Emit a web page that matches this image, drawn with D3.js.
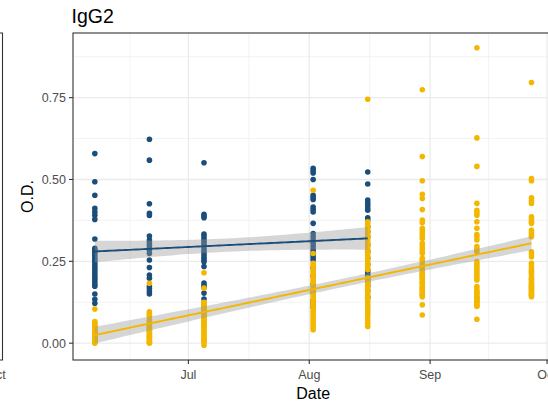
<!DOCTYPE html>
<html><head><meta charset="utf-8">
<script src="https://cdn.jsdelivr.net/npm/d3@7"></script>
<style>
body{margin:0;background:#fff}
svg{display:block}
text{font-family:Arial,"Liberation Sans",sans-serif}
</style>
</head><body>
<svg id="chart" width="548" height="402"></svg>
<script>
// ---- data ----
const title = "IgG2";
const xTitle = "Date";
const yTitle = "O.D.";
const sampleDates = ["2021-06-07","2021-06-21","2021-07-05","2021-08-02","2021-08-16","2021-08-30","2021-09-13","2021-09-27"];

// group A (dark blue) – sampled on the first five dates
const groupA = [
  [0.579,0.493,0.452,0.412,0.401,0.391,0.378,0.318,0.290,0.284,0.277,0.270,0.263,0.256,0.249,0.242,0.235,0.228,0.221,0.214,0.207,0.200,0.194,0.187,0.180,0.174,0.150,0.134,0.122],
  [0.623,0.559,0.426,0.397,0.390,0.327,0.315,0.307,0.299,0.291,0.283,0.274,0.254,0.231,0.208,0.198,0.173,0.166,0.158,0.150],
  [0.551,0.394,0.388,0.383,0.333,0.325,0.317,0.310,0.302,0.294,0.286,0.278,0.270,0.262,0.255,0.249,0.234,0.184,0.176,0.170,0.153,0.135],
  [0.534,0.527,0.520,0.500,0.452,0.445,0.439,0.416,0.409,0.401,0.366,0.335,0.325,0.315,0.305,0.296,0.287,0.278,0.270,0.262,0.254,0.230,0.205,0.180,0.155,0.130,0.120,0.110],
  [0.523,0.486,0.437,0.429,0.421,0.413,0.406,0.383,0.376,0.355,0.340,0.325,0.300,0.280,0.260,0.240,0.223,0.215,0.208,0.185,0.160,0.140,0.195,0.175]
];

// group B (yellow) – sampled on all eight dates
const groupB = [
  [0.104,0.066,0.062,0.058,0.054,0.050,0.047,0.044,0.041,0.038,0.035,0.032,0.029,0.026,0.023,0.020,0.018,0.015,0.012,0.010,0.008,0.006,0.004,0.002,0.000,0.003,0.007,0.011,0.016,0.021,0.027,0.033],
  [0.183,0.096,0.090,0.085,0.081,0.071,0.066,0.061,0.056,0.051,0.046,0.042,0.038,0.034,0.030,0.026,0.022,0.018,0.014,0.010,0.006,0.003,0.000,0.048,0.040,0.020],
  [0.215,0.168,0.122,0.116,0.110,0.104,0.098,0.092,0.087,0.082,0.077,0.072,0.067,0.062,0.057,0.052,0.047,0.042,0.037,0.032,0.027,0.022,0.017,0.012,0.007,0.003,-0.006,0.125,0.119,0.113,0.107,0.101,0.095],
  [0.467,0.274,0.244,0.237,0.230,0.223,0.216,0.209,0.202,0.195,0.188,0.181,0.174,0.167,0.160,0.153,0.146,0.139,0.132,0.125,0.118,0.111,0.104,0.097,0.090,0.083,0.076,0.069,0.062,0.055,0.048,0.041],
  [0.745,0.371,0.364,0.357,0.350,0.343,0.336,0.329,0.322,0.315,0.308,0.301,0.294,0.287,0.280,0.273,0.266,0.259,0.252,0.245,0.238,0.231,0.224,0.200,0.193,0.186,0.179,0.172,0.165,0.158,0.151,0.144,0.137,0.130,0.123,0.116,0.109,0.102,0.095,0.088,0.080,0.070,0.061,0.051],
  [0.774,0.570,0.496,0.455,0.442,0.408,0.376,0.368,0.351,0.343,0.335,0.327,0.320,0.305,0.297,0.289,0.281,0.274,0.259,0.252,0.245,0.238,0.231,0.224,0.217,0.210,0.203,0.196,0.190,0.183,0.168,0.160,0.150,0.142,0.117,0.086,0.227,0.213,0.206,0.199,0.186,0.178,0.171,0.164,0.155,0.146],
  [0.902,0.627,0.540,0.427,0.406,0.398,0.391,0.371,0.351,0.332,0.324,0.315,0.295,0.287,0.279,0.249,0.242,0.235,0.228,0.221,0.214,0.207,0.200,0.193,0.173,0.166,0.159,0.152,0.145,0.138,0.131,0.124,0.118,0.112,0.073,0.115,0.128,0.141,0.155,0.135],
  [0.796,0.503,0.496,0.444,0.435,0.427,0.386,0.379,0.372,0.366,0.345,0.338,0.331,0.325,0.279,0.271,0.264,0.244,0.236,0.228,0.221,0.213,0.198,0.191,0.184,0.177,0.170,0.163,0.156,0.149,0.142,0.195,0.175,0.160,0.146,0.152,0.168,0.182,0.205,0.218]
];

const yTickValues = [0, 0.25, 0.50, 0.75];
const yTickLabels = ["0.00","0.25","0.50","0.75"];
const xTickDates = ["2021-06-01","2021-07-01","2021-08-01","2021-09-01","2021-10-01"];
const xTickLabels = ["Jun","Jul","Aug","Sep","Oct"];

const colorA = "#1b4e7a";
const colorB = "#f3b700";

// ---- layout ----
const svg = d3.select("#chart");
const W = 548, H = 402;
const panel = {left: 73, right: 553.3, top: 33, bottom: 360};

const parse = d3.utcParse("%Y-%m-%d");
const dayMs = 86400000;
const dates = sampleDates.map(parse);

function toPoints(groups) {
  const pts = [];
  groups.forEach((vals, i) => vals.forEach(v => pts.push({d: dates[i], v})));
  return pts;
}
const ptsA = toPoints(groupA);
const ptsB = toPoints(groupB);
const all = ptsA.concat(ptsB);

// ggplot-like 5% expansion
const dExt = d3.extent(all, p => +p.d);
const dPad = (dExt[1] - dExt[0]) * 0.05;
const vExt = d3.extent(all, p => p.v);
const vPad = (vExt[1] - vExt[0]) * 0.05;

const x = d3.scaleUtc().domain([new Date(dExt[0] - dPad), new Date(dExt[1] + dPad)]).range([panel.left, panel.right]);
const y = d3.scaleLinear().domain([vExt[0] - vPad, vExt[1] + vPad]).range([panel.bottom, panel.top]);

svg.append("defs").append("clipPath").attr("id","clip")
  .append("rect").attr("x",panel.left).attr("y",panel.top)
  .attr("width",panel.right-panel.left).attr("height",panel.bottom-panel.top);

const g = svg.append("g").attr("clip-path","url(#clip)");

// grid
const xMaj = xTickDates.map(parse);
const xMin = [];
for (let i = 0; i < xMaj.length - 1; i++) xMin.push(new Date((+xMaj[i] + +xMaj[i+1]) / 2));
const yMin = [];
for (let i = 0; i < yTickValues.length; i++) yMin.push(yTickValues[i] + 0.125);

g.selectAll(".ymin").data(yMin).join("line")
  .attr("x1",panel.left).attr("x2",panel.right)
  .attr("y1",d=>y(d)).attr("y2",d=>y(d))
  .attr("stroke","#f2f2f2").attr("stroke-width",0.9);
g.selectAll(".xmin").data(xMin).join("line")
  .attr("y1",panel.top).attr("y2",panel.bottom)
  .attr("x1",d=>x(d)).attr("x2",d=>x(d))
  .attr("stroke","#f2f2f2").attr("stroke-width",0.9);
g.selectAll(".ymaj").data(yTickValues).join("line")
  .attr("x1",panel.left).attr("x2",panel.right)
  .attr("y1",d=>y(d)).attr("y2",d=>y(d))
  .attr("stroke","#ebebeb").attr("stroke-width",1.3);
g.selectAll(".xmaj").data(xMaj).join("line")
  .attr("y1",panel.top).attr("y2",panel.bottom)
  .attr("x1",d=>x(d)).attr("x2",d=>x(d))
  .attr("stroke","#ebebeb").attr("stroke-width",1.3);

// points
const r = 2.8;
g.selectAll(".pa").data(ptsA).join("circle")
  .attr("cx",p=>x(p.d)).attr("cy",p=>y(p.v)).attr("r",r).attr("fill",colorA);
g.selectAll(".pb").data(ptsB).join("circle")
  .attr("cx",p=>x(p.d)).attr("cy",p=>y(p.v)).attr("r",r).attr("fill",colorB);

// linear model with 95% CI (like geom_smooth(method="lm"))
function tQuant(df) {
  const z = 1.959964;
  return z + (z*z*z + z)/(4*df) + (5*Math.pow(z,5) + 16*z*z*z + 3*z)/(96*df*df);
}
function lmFit(pts) {
  const xs = pts.map(p => +p.d / dayMs), ys = pts.map(p => p.v);
  const n = xs.length;
  const mx = d3.mean(xs), my = d3.mean(ys);
  let sxx = 0, sxy = 0;
  for (let i = 0; i < n; i++) { sxx += (xs[i]-mx)**2; sxy += (xs[i]-mx)*(ys[i]-my); }
  const b = sxy / sxx, a = my - b * mx;
  let sse = 0;
  for (let i = 0; i < n; i++) sse += (ys[i] - a - b*xs[i])**2;
  const s = Math.sqrt(sse / (n - 2));
  const t = tQuant(n - 2);
  const [x0, x1] = d3.extent(xs);
  const out = [];
  for (let k = 0; k < 80; k++) {
    const xv = x0 + (x1 - x0) * k / 79;
    const fit = a + b * xv;
    const se = s * Math.sqrt(1/n + (xv-mx)**2 / sxx);
    out.push({d: new Date(xv * dayMs), fit, lo: fit - t*se, hi: fit + t*se});
  }
  return out;
}
const fitA = lmFit(ptsA), fitB = lmFit(ptsB);

const area = d3.area().x(f=>x(f.d)).y0(f=>y(f.lo)).y1(f=>y(f.hi));
const line = d3.line().x(f=>x(f.d)).y(f=>y(f.fit));

[[fitA, colorA],[fitB, colorB]].forEach(([f,c]) => {
  g.append("path").datum(f).attr("d",area).attr("fill","#999999").attr("fill-opacity",0.4);
  g.append("path").datum(f).attr("d",line).attr("fill","none").attr("stroke",c).attr("stroke-width",1.9);
});

// panel border
svg.append("rect").attr("x",panel.left).attr("y",panel.top)
  .attr("width",panel.right-panel.left).attr("height",panel.bottom-panel.top)
  .attr("fill","none").attr("stroke","#333333").attr("stroke-width",1.1);

// y axis ticks
const axisCol = "#333333", labCol = "#4d4d4d";
svg.selectAll(".yt").data(yTickValues).join("line")
  .attr("x1",panel.left-4).attr("x2",panel.left)
  .attr("y1",d=>y(d)).attr("y2",d=>y(d))
  .attr("stroke",axisCol).attr("stroke-width",1.1);
svg.selectAll(".yl").data(yTickValues).join("text")
  .attr("x",panel.left-7).attr("y",d=>y(d)).attr("dy","0.36em")
  .attr("text-anchor","end").attr("font-size","12.5px").attr("fill",labCol)
  .text((d,i)=>yTickLabels[i]);

// x axis ticks (those at or right of the panel's left edge)
const xt = xMaj.map((d,i)=>({d, lab: xTickLabels[i]})).filter(o => x(o.d) >= panel.left && x(o.d) <= W + 20);
svg.selectAll(".xt").data(xt).join("line")
  .attr("x1",o=>x(o.d)).attr("x2",o=>x(o.d))
  .attr("y1",panel.bottom).attr("y2",panel.bottom+4)
  .attr("stroke",axisCol).attr("stroke-width",1.1);
svg.selectAll(".xl").data(xt).join("text")
  .attr("x",o=>x(o.d)).attr("y",379)
  .attr("text-anchor","middle").attr("font-size","12.5px").attr("fill",labCol)
  .text(o=>o.lab);

// titles
svg.append("text").attr("x",71.5).attr("y",23).attr("font-size","19.5px").attr("fill","#000").text(title);
svg.append("text").attr("x",(panel.left+panel.right)/2).attr("y",399)
  .attr("text-anchor","middle").attr("font-size","16px").attr("fill","#000").text(xTitle);
svg.append("text").attr("transform",`translate(33,${(panel.top+panel.bottom)/2}) rotate(-90)`)
  .attr("text-anchor","middle").attr("font-size","16px").attr("fill","#000").text(yTitle);

// edge of the neighbouring panel on the left (cropped, as in the reference)
svg.append("path").attr("d",`M-10,${panel.top} H2.5 V${panel.bottom} H-10`)
  .attr("fill","none").attr("stroke","#333333").attr("stroke-width",1.1);
svg.append("text").attr("x",-4).attr("y",379).attr("text-anchor","middle")
  .attr("font-size","12.5px").attr("fill",labCol).text("Oct");
</script>
</body></html>
